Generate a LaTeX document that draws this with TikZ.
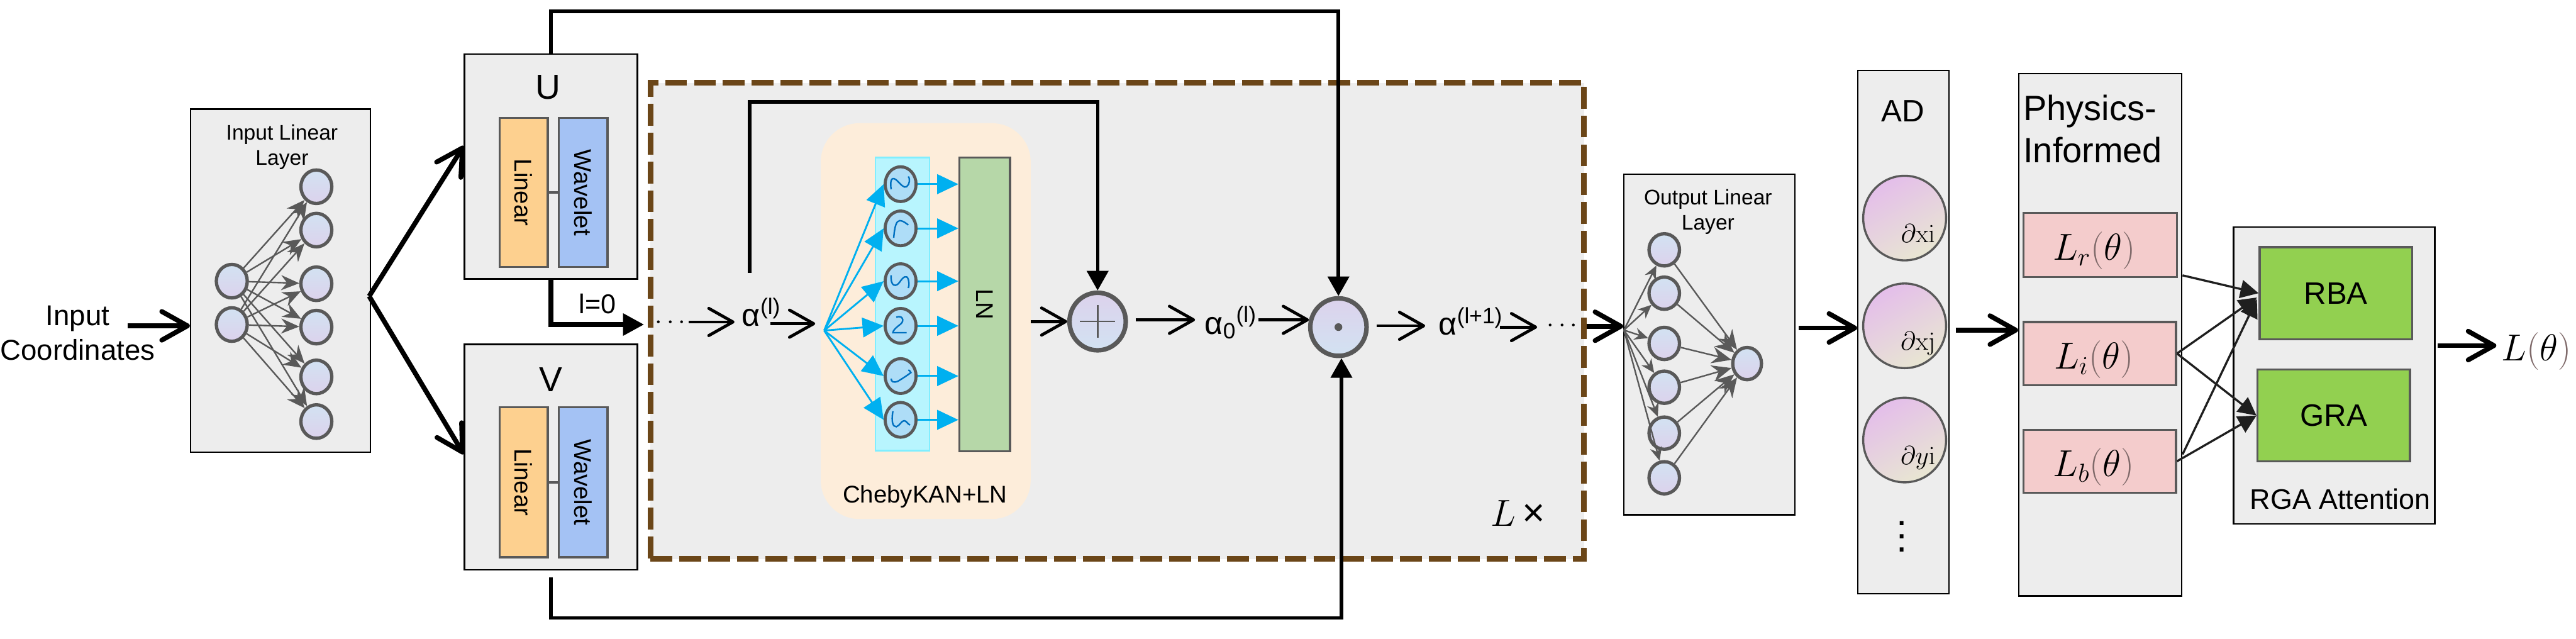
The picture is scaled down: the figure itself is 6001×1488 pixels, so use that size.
\documentclass[tikz,border=0pt]{standalone}
\usepackage[no-math]{fontspec}
\setmainfont{Liberation Sans}
\usetikzlibrary{arrows.meta,shapes.geometric,fit,calc}
\definecolor{boxgray}{HTML}{EDEDED}
\definecolor{edgegray}{HTML}{595959}
\definecolor{brownd}{HTML}{6B4618}
\definecolor{linfill}{HTML}{FDD08F}
\definecolor{wavfill}{HTML}{A4C2F4}
\definecolor{kanbg}{HTML}{FDEDDA}
\definecolor{cyanfill}{HTML}{B8F5FE}
\definecolor{cyanedge}{HTML}{80EEFF}
\definecolor{basisfill}{HTML}{AEDDF7}
\definecolor{lnfill}{HTML}{B6D7A8}
\definecolor{cyanarr}{HTML}{00B0F0}
\definecolor{squig}{HTML}{0070C0}
\definecolor{lossfill}{HTML}{F4CCCC}
\definecolor{gfill}{HTML}{92D050}
\definecolor{parcol}{HTML}{7F6A6A}
\definecolor{darkarr}{HTML}{1F1F1F}
\definecolor{nblue}{HTML}{D2E2F2}
\definecolor{nlav}{HTML}{DCD2EC}
\definecolor{adpink}{HTML}{E4BEEA}
\definecolor{adbeige}{HTML}{E8E6D2}
\newcommand{\pc}[1]{{\color{parcol}#1}}
\begin{document}
\begin{tikzpicture}[x=0.01cm,y=-0.01cm,
  box/.style={draw=black,line width=1pt,fill=boxgray,inner sep=0pt},
  gbox/.style={draw=edgegray,line width=1.4pt,inner sep=0pt},
  neuron/.style={ellipse,draw=edgegray,line width=2.2pt,top color=nblue,bottom color=nlav,minimum width=0.72cm,minimum height=0.78cm,inner sep=0pt},
  oneuron/.style={neuron,minimum width=0.71cm,minimum height=0.75cm},
  basis/.style={ellipse,draw=edgegray,line width=2pt,fill=basisfill,minimum width=0.72cm,minimum height=0.81cm,inner sep=0pt},
  opcirc/.style={ellipse,draw=edgegray,line width=3pt,top color=nlav,bottom color=nblue,minimum width=1.31cm,minimum height=1.34cm,inner sep=0pt},
  adcirc/.style={ellipse,draw=edgegray,line width=1.4pt,top color=adpink,bottom color=adbeige,shading angle=30,minimum width=1.93cm,minimum height=1.97cm,inner sep=0pt},
  narr/.style={draw=edgegray,line width=1pt,-{Stealth[length=12pt,width=10pt]}},
  oarr/.style={draw=edgegray,line width=1pt,-{Stealth[length=9pt,width=8pt]}},
  zarr/.style={draw=edgegray,line width=1pt,-{Stealth[length=13pt,width=11pt]}},
  carr/.style={draw=cyanarr,line width=1.2pt,-{Triangle[length=14pt,width=13pt]}},
  bigarr/.style={line width=3.2pt,-{Straight Barb[length=17pt,width=19pt,round]}},
  tarr/.style={line width=2pt,-{Straight Barb[length=16pt,width=18pt,round]}},
  skarr/.style={line width=2.3pt,-{Triangle[length=13pt,width=14pt]}},
  darr/.style={draw=darkarr,line width=1.4pt,-{Triangle[length=12pt,width=12pt]}},
  sq/.style={draw=squig,line width=1pt},
  fs14/.style={font=\fontsize{14}{16.6}\selectfont},
  fs16/.style={font=\fontsize{16}{19}\selectfont},
  fs21/.style={font=\fontsize{21}{24}\selectfont},
]
\useasboundingbox (0,0) rectangle (6001,1488);

% ---------------- Input
\node[font=\fontsize{19}{23}\selectfont,align=center] (inc) at (181,776) {Input\\Coordinates};
\node[box,fit={(444,254)(863,1053)}] (inl) {};
\node[fs14,align=center] at (657,343) {Input Linear\\Layer};
\foreach \i/\y in {1/655,2/756} \node[neuron] (a\i) at (540,\y) {};
\foreach \i/\y in {1/435,2/536,3/661,4/762,5/878,6/982} \node[neuron] (b\i) at (737,\y) {};
\foreach \i in {1,2} \foreach \j in {1,...,6} \draw[narr] (a\i) -- (b\j);
\coordinate (incs) at (298,759);
\draw[bigarr] (incs) -- (inl.west |- incs);

% ---------------- U and V
\node[box,fit={(1082,126)(1485,650)}] (U) {};
\node[font=\fontsize{23}{26}\selectfont] at (1276,203) {U};
\node[gbox,fill=linfill,fit={(1164,275)(1276,622)}] (ul) {};
\node[gbox,fill=wavfill,fit={(1302,275)(1415,622)}] (uw) {};
\node[fs16,rotate=-90] at (ul) {Linear};
\node[fs16,rotate=-90] at (uw) {Wavelet};
\draw[edgegray,line width=1.4pt] (ul.east) -- (uw.west);

\node[box,fit={(1082,802)(1485,1327)}] (V) {};
\node[font=\fontsize{23}{26}\selectfont] at (1283,884) {V};
\node[gbox,fill=linfill,fit={(1164,949)(1276,1298)}] (vl) {};
\node[gbox,fill=wavfill,fit={(1302,949)(1415,1298)}] (vw) {};
\node[fs16,rotate=-90] at (vl) {Linear};
\node[fs16,rotate=-90] at (vw) {Wavelet};
\draw[edgegray,line width=1.4pt] (vl.east) -- (vw.west);

\coordinate (split) at (860,690);
\draw[bigarr] (split) -- (U.west |- 0,340);
\draw[bigarr] (split) -- (V.west |- 0,1058);

% ---------------- loop box
\node[fit={(1515,193)(3690,1302)},inner sep=0pt,fill=boxgray,draw=brownd,line width=3.7pt,dash pattern=on 14.5pt off 4.6pt] (loop) {};
\node[font=\fontsize{26}{30}\selectfont] at (3536,1196) {$L$\,×};

% KAN block
\node[fit={(1912,287)(2401,1209)},inner sep=0pt,fill=kanbg,rounded corners=0.9cm] (kan) {};
\node[fit={(2039,367)(2165,1050)},inner sep=0pt,fill=cyanfill,draw=cyanedge,line width=1pt] (col) {};
\foreach \i/\y in {1/429,2/532,3/655,4/759,5/876,6/978} \node[basis] (c\i) at (2098,\y) {};
\node[gbox,fill=lnfill,fit={(2235,367)(2353,1051)}] (LN) {};
\node[fs16,rotate=-90] at (LN) {LN};
\node[fs16] at (2155,1157) {ChebyKAN+LN};
\coordinate (fan) at (1920,770);
\foreach \i in {1,...,6} \draw[carr] (fan) -- (c\i.west);
\foreach \i in {1,...,6} \draw[carr] (c\i.east) -- (LN.west |- c\i);
% squiggles
\begin{scope}[shift={(c1)}]\draw[sq] (-22,12) .. controls (-26,-14) and (-18,-18) .. (-8,-8) .. controls (0,0) and (8,10) .. (14,6) .. controls (22,0) and (22,-14) .. (18,-18);\end{scope}
\begin{scope}[shift={(c2)}]\draw[sq] (-16,22) .. controls (-14,-4) and (-10,-18) .. (-2,-18) .. controls (6,-18) and (12,-12) .. (18,-8);\end{scope}
\begin{scope}[shift={(c3)}]\draw[sq] (-22,-14) .. controls (-24,14) and (-10,14) .. (-2,2) .. controls (6,-10) and (14,-16) .. (18,-4) .. controls (20,4) and (20,10) .. (18,16);\end{scope}
\begin{scope}[shift={(c4)}]\draw[sq] (-10,-20) .. controls (4,-26) and (10,-12) .. (0,-4) .. controls (-8,2) and (-18,10) .. (-18,16) -- (14,16);\end{scope}
\begin{scope}[shift={(c5)}]\draw[sq] (-22,6) .. controls (-22,14) and (-16,16) .. (-6,12) .. controls (4,6) and (16,-2) .. (24,-8) .. controls (22,-12) and (20,-14) .. (18,-14);\end{scope}
\begin{scope}[shift={(c6)}]\draw[sq] (-18,-20) .. controls (-22,6) and (-18,16) .. (-10,16) .. controls (-2,14) and (2,2) .. (8,2) .. controls (14,2) and (16,10) .. (22,12);\end{scope}

% operators
\node[opcirc] (plus) at (2557,749) {};
\draw[edgegray,line width=1pt] (plus.center) ++(0,-38) -- ++(0,76);
\draw[edgegray,line width=1pt] (plus.center) ++(-41,0) -- ++(82,0);
\node[opcirc] (dot) at (3118,762) {};
\fill[edgegray] (dot.center) circle[radius=0.09cm];

% alpha texts
\node[fs21,anchor=base west,inner sep=0pt] (al) at (1728,759) {α\textsuperscript{(l)}};
\node[fs21,anchor=base west,inner sep=0pt] (a0) at (2806,778) {α\textsubscript{0}\textsuperscript{(l)}};
\node[fs21,anchor=base west,inner sep=0pt] (a1) at (3351,780) {α\textsuperscript{(l+1)}};
\node[font=\fontsize{17}{20}\selectfont,inner sep=0pt] (dl) at (1562,752) {$\cdots$};
\node[font=\fontsize{17}{20}\selectfont,inner sep=0pt] (dr) at (3639,759) {$\cdots$};

% flow arrows
\coordinate (l0end) at ($(loop.west |- 0,756)+(-8,0)$);
\draw[line width=3.4pt,-{Triangle[length=14pt,width=14pt]}] (U.south) |- (l0end);
\node[font=\fontsize{18}{21}\selectfont] at (1392,707) {l=0};
\draw[tarr] ($(dl.east)+(6,-2)$) -- ($(al.base west)+(-17,-9)$);
\draw[tarr] ($(al.base west)+(66,-5)$) -- ($(fan)+(-21,-16)$);
\draw[skarr] ($(al.base west)+(18,-123)$) -- ++(0,-399) -| (plus.north);
\draw[tarr] (kan.east |- plus) -- (plus.west);
\draw[tarr] ($(plus.east)+(18,-4)$) -- ($(a0.base west)+(-22,-33)$);
\draw[tarr] ($(a0.base west)+(125,-33)$) -- ($(dot.west |- 0,745)+(2,0)$);
\draw[tarr] ($(dot.east)+(18,-3)$) -- ($(a1.base west)+(-31,-21)$);
\draw[tarr] ($(a1.base west)+(143,-18)$) -- ($(dr.west)+(-22,3)$);
\draw[skarr] (U.north) -- ++(0,-98) -| (dot.north);
\draw[skarr] ($(V.south)+(0,16)$) -- ++(0,95) -| ($(dot.south)+(7,0)$);

% ---------------- Output layer
\node[box,fit={(3783,406)(4181,1199)}] (out) {};
\draw[bigarr] (loop.east |- 0,760) -- (out.west |- 0,760);
\node[fs14,align=center] at (3979,494) {Output Linear\\Layer};
\foreach \i/\y in {1/582,2/683,3/800,4/902,5/1009,6/1113} \node[oneuron] (o\i) at (3877,\y) {};
\node[oneuron,minimum width=0.67cm] (oz) at (4070,847) {};
\coordinate (ofan) at (3783,769);
\foreach \i in {1,...,6} \draw[oarr] (ofan) -- (o\i);
\foreach \i in {1,...,6} \draw[zarr] (o\i) -- (oz);

% ---------------- AD
\node[box,fit={(4328,164)(4540,1383)}] (AD) {};
\draw[bigarr] ($(out.east |- 0,764)+(7,0)$) -- (AD.west |- 0,764);
\node[font=\fontsize{20.5}{24}\selectfont] at (4433,259) {AD};
\node[adcirc] (e1) at (4437,508) {};
\node[adcirc] (e2) at (4437,759) {};
\node[adcirc] (e3) at (4437,1025) {};
\node[fs16,anchor=base,inner sep=0pt] at ($(e1.center)+(31,57)$) {$\partial\mathrm{xi}$};
\node[fs16,anchor=base,inner sep=0pt] at ($(e2.center)+(31,57)$) {$\partial\mathrm{xj}$};
\node[fs16,anchor=base,inner sep=0pt] at ($(e3.center)+(31,57)$) {$\partial y\mathrm{i}$};
\node[font=\fontsize{26}{8.8}\selectfont,align=center,inner sep=0pt] at (4431,1250) {.\\.\\.};

% ---------------- Physics
\node[box,fit={(4703,171)(5082,1388)}] (phys) {};
\draw[bigarr] ($(AD.east |- 0,769)+(14,0)$) -- (phys.west |- 0,769);
\node[font=\fontsize{23.3}{27.9}\selectfont,align=left,anchor=north west,inner sep=0pt] at (4713,221) {Physics-\\Informed};
\node[gbox,fill=lossfill,fit={(4714,496)(5071,645)}] (Lr) {};
\node[gbox,fill=lossfill,fit={(4714,750)(5069,897)}] (Li) {};
\node[gbox,fill=lossfill,fit={(4714,1001)(5069,1148)}] (Lb) {};
\node[font=\fontsize{26}{30}\selectfont,anchor=base,inner sep=0pt] at ($(Lr.center)+(-14,36)$) {$L_r\pc{(}\theta\pc{)}$};
\node[font=\fontsize{26}{30}\selectfont,anchor=base,inner sep=0pt] at ($(Li.center)+(-14,36)$) {$L_i\pc{(}\theta\pc{)}$};
\node[font=\fontsize{26}{30}\selectfont,anchor=base,inner sep=0pt] at ($(Lb.center)+(-14,36)$) {$L_b\pc{(}\theta\pc{)}$};

% ---------------- RGA
\node[box,fit={(5203,529)(5672,1220)}] (rga) {};
\node[gbox,fill=gfill,fit={(5264,576)(5619,790)}] (RBA) {};
\node[gbox,fill=gfill,fit={(5259,861)(5614,1075)}] (GRA) {};
\node[font=\fontsize{20.5}{24}\selectfont] at (RBA) {RBA};
\node[font=\fontsize{20.5}{24}\selectfont] at (GRA) {GRA};
\node[font=\fontsize{18.7}{22}\selectfont] at (5452,1162) {RGA Attention};
\draw[darr] ($(Lr.south east)+(11,-6)$) -- (RBA.west);
\draw[darr] (Li.east) -- ($(RBA.west)+(-4,10)$);
\draw[darr] (Li.east) -- (GRA.west);
\draw[darr] ($(Lb.east)+(13,-16)$) -- ($(RBA.west)+(-4,14)$);
\draw[darr] (Lb.east) -- (GRA.west);

\node[font=\fontsize{26}{30}\selectfont] (Lt) at (5909,818) {$L\pc{(}\theta\pc{)}$};
\draw[bigarr] ($(rga.east |- 0,805)+(5,0)$) -- (Lt.west |- 0,805);
\end{tikzpicture}
\end{document}
